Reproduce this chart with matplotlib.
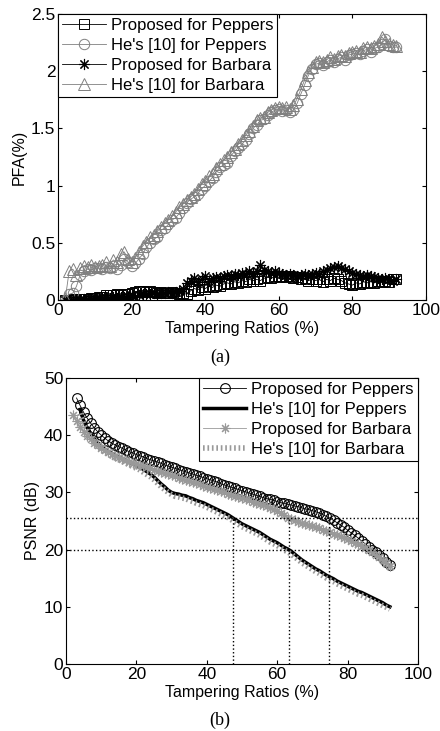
import matplotlib
matplotlib.use('Agg')
import matplotlib.pyplot as plt

plt.rcParams['font.family'] = ['Liberation Sans', 'DejaVu Sans']
plt.rcParams['font.size'] = 11.5

# ---------------- (a) PFA ----------------
ratio_a = list(range(2, 93))

pfa_prop_peppers = [
    0.00, 0.00, 0.01, 0.00, 0.01, 0.01, 0.01, 0.02, 0.02, 0.03,
    0.03, 0.04, 0.04, 0.04, 0.05, 0.04, 0.05, 0.05, 0.06, 0.07,
    0.08, 0.08, 0.07, 0.08, 0.07, 0.06, 0.07, 0.06, 0.06, 0.07,
    0.06, 0.05, 0.06, 0.05, 0.08, 0.10, 0.09, 0.11, 0.10, 0.12,
    0.11, 0.13, 0.12, 0.14, 0.15, 0.14, 0.16, 0.15, 0.17, 0.16,
    0.18, 0.17, 0.18, 0.17, 0.19, 0.20, 0.19, 0.21, 0.20, 0.21,
    0.20, 0.21, 0.19, 0.20, 0.18, 0.19, 0.17, 0.18, 0.17, 0.18,
    0.16, 0.18, 0.17, 0.19, 0.18, 0.17, 0.15, 0.14, 0.13, 0.15,
    0.14, 0.16, 0.15, 0.16, 0.15, 0.17, 0.16, 0.17, 0.16, 0.18, 0.18]

pfa_he_peppers = [
    0.00, 0.05, 0.06, 0.12, 0.22, 0.25, 0.27, 0.26, 0.28, 0.28,
    0.27, 0.29, 0.28, 0.30, 0.27, 0.31, 0.36, 0.33, 0.30, 0.32,
    0.36, 0.40, 0.46, 0.50, 0.53, 0.55, 0.61, 0.63, 0.66, 0.70,
    0.72, 0.76, 0.80, 0.85, 0.88, 0.90, 0.93, 0.97, 1.00, 1.04,
    1.07, 1.12, 1.16, 1.18, 1.20, 1.26, 1.30, 1.33, 1.36, 1.40,
    1.45, 1.50, 1.53, 1.57, 1.58, 1.62, 1.64, 1.66, 1.67, 1.65,
    1.66, 1.64, 1.66, 1.72, 1.80, 1.88, 1.96, 2.02, 2.06, 2.07,
    2.05, 2.08, 2.10, 2.08, 2.11, 2.12, 2.10, 2.14, 2.15, 2.16,
    2.15, 2.18, 2.19, 2.17, 2.20, 2.21, 2.24, 2.28, 2.22, 2.21, 2.21]

pfa_prop_barbara = [
    0.00, 0.00, 0.00, 0.01, 0.00, 0.01, 0.01, 0.01, 0.01, 0.02,
    0.02, 0.02, 0.02, 0.03, 0.02, 0.03, 0.03, 0.03, 0.04, 0.03,
    0.04, 0.05, 0.05, 0.05, 0.06, 0.05, 0.06, 0.06, 0.07, 0.06,
    0.07, 0.08, 0.10, 0.15, 0.17, 0.19, 0.16, 0.18, 0.21, 0.17,
    0.19, 0.20, 0.19, 0.21, 0.22, 0.21, 0.23, 0.22, 0.24, 0.23,
    0.25, 0.24, 0.25, 0.31, 0.26, 0.25, 0.24, 0.25, 0.24, 0.23,
    0.22, 0.23, 0.22, 0.21, 0.22, 0.23, 0.22, 0.23, 0.24, 0.23,
    0.25, 0.26, 0.28, 0.29, 0.30, 0.28, 0.27, 0.25, 0.24, 0.23,
    0.22, 0.21, 0.22, 0.21, 0.20, 0.19, 0.18, 0.19, 0.18, 0.17, 0.18]

pfa_he_barbara = [
    0.02, 0.25, 0.27, 0.22, 0.28, 0.30, 0.29, 0.31, 0.29, 0.30,
    0.31, 0.33, 0.30, 0.35, 0.33, 0.40, 0.42, 0.36, 0.33, 0.37,
    0.42, 0.47, 0.51, 0.55, 0.57, 0.60, 0.64, 0.67, 0.70, 0.73,
    0.77, 0.81, 0.84, 0.87, 0.90, 0.93, 0.97, 1.01, 1.04, 1.08,
    1.10, 1.15, 1.19, 1.22, 1.25, 1.29, 1.32, 1.36, 1.40, 1.44,
    1.48, 1.52, 1.57, 1.59, 1.60, 1.64, 1.66, 1.68, 1.69, 1.68,
    1.69, 1.67, 1.70, 1.76, 1.84, 1.92, 1.99, 2.04, 2.08, 2.09,
    2.08, 2.10, 2.12, 2.11, 2.13, 2.14, 2.13, 2.16, 2.17, 2.18,
    2.17, 2.20, 2.21, 2.20, 2.22, 2.24, 2.30, 2.26, 2.24, 2.23, 2.22]

# ---------------- (b) PSNR ----------------
ratio_prop_peppers = list(range(3, 93))
psnr_prop_peppers = [
    46.5, 45.2, 44.0, 43.0, 42.1, 41.3, 40.6, 40.0, 39.5, 39.0,
    38.6, 38.3, 38.0, 37.7, 37.4, 37.1, 36.9, 36.6, 36.4, 36.2,
    35.9, 35.7, 35.5, 35.3, 35.1, 34.8, 34.6, 34.4, 34.2, 34.0,
    33.8, 33.6, 33.4, 33.2, 33.0, 32.8, 32.6, 32.4, 32.2, 32.0,
    31.8, 31.5, 31.3, 31.1, 30.9, 30.7, 30.5, 30.3, 30.1, 29.9,
    29.7, 29.5, 29.3, 29.1, 28.9, 28.8, 28.6, 28.4, 28.2, 28.1,
    27.9, 27.8, 27.6, 27.5, 27.3, 27.1, 27.0, 26.8, 26.6, 26.4,
    26.1, 25.8, 25.5, 25.1, 24.7, 24.3, 23.9, 23.4, 22.9, 22.5,
    22.0, 21.5, 21.0, 20.5, 20.0, 19.5, 19.0, 18.5, 17.9, 17.3]

ratio_he = list(range(4, 93))
psnr_he_peppers = [
    44.5, 42.6, 41.3, 40.3, 39.4, 38.7, 38.1, 37.6, 37.2, 36.8,
    36.5, 36.2, 35.9, 35.6, 35.3, 35.0, 34.7, 34.4, 34.0, 33.6,
    33.2, 32.7, 32.1, 31.5, 31.0, 30.4, 30.0, 29.8, 29.7, 29.5,
    29.4, 29.1, 28.9, 28.6, 28.4, 28.2, 27.9, 27.6, 27.3, 27.0,
    26.7, 26.4, 26.1, 25.7, 25.3, 24.9, 24.5, 24.2, 23.9, 23.6,
    23.3, 23.0, 22.6, 22.2, 21.8, 21.5, 21.2, 20.8, 20.4, 20.1,
    19.7, 19.2, 18.7, 18.2, 17.8, 17.4, 17.0, 16.6, 16.3, 15.9,
    15.5, 15.2, 14.9, 14.5, 14.2, 13.9, 13.6, 13.3, 13.0, 12.7,
    12.5, 12.2, 11.9, 11.6, 11.3, 11.0, 10.7, 10.3, 10.0]

ratio_prop_barbara = list(range(2, 93))
psnr_prop_barbara = [
    43.5, 42.4, 41.4, 40.6, 39.9, 39.3, 38.7, 38.2, 37.8, 37.4,
    37.0, 36.7, 36.4, 36.1, 35.9, 35.6, 35.4, 35.2, 35.0, 34.8,
    34.6, 34.4, 34.2, 34.0, 33.8, 33.6, 33.4, 33.2, 33.0, 32.8,
    32.6, 32.4, 32.2, 32.0, 31.8, 31.6, 31.4, 31.2, 31.0, 30.8,
    30.6, 30.4, 30.2, 30.0, 29.8, 29.6, 29.4, 29.2, 29.0, 28.8,
    28.6, 28.4, 28.2, 28.0, 27.8, 27.6, 27.3, 27.1, 26.8, 26.4,
    26.0, 25.6, 25.3, 25.1, 24.9, 24.7, 24.5, 24.3, 24.2, 24.0,
    23.7, 23.5, 23.2, 23.0, 22.8, 22.5, 22.3, 22.0, 21.8, 21.5,
    21.2, 20.9, 20.6, 20.3, 19.9, 19.5, 19.1, 18.7, 18.2, 17.7, 17.2]

psnr_he_barbara = [
    43.8, 42.0, 40.8, 39.8, 38.9, 38.2, 37.6, 37.1, 36.7, 36.3,
    36.0, 35.7, 35.4, 35.1, 34.8, 34.5, 34.2, 33.9, 33.5, 33.1,
    32.7, 32.2, 31.6, 31.0, 30.5, 30.0, 29.6, 29.3, 29.2, 29.0,
    28.9, 28.6, 28.4, 28.1, 27.9, 27.7, 27.4, 27.1, 26.8, 26.5,
    26.2, 25.9, 25.6, 25.2, 24.8, 24.4, 24.0, 23.7, 23.4, 23.1,
    22.8, 22.5, 22.1, 21.7, 21.3, 21.0, 20.7, 20.3, 19.9, 19.6,
    19.2, 18.7, 18.2, 17.7, 17.3, 16.9, 16.5, 16.1, 15.8, 15.4,
    15.0, 14.7, 14.4, 14.0, 13.7, 13.4, 13.1, 12.8, 12.5, 12.2,
    12.0, 11.7, 11.4, 11.1, 10.8, 10.5, 10.2, 9.9, 9.6]

guide_psnr = [25.5, 20]
guide_ratio = [47.5, 63.3, 74.7]

fig = plt.figure(figsize=(4.4, 7.31), dpi=100)

gray = '#808080'
light = '#999999'
asterisk = (8, 2, 0)

# (a)
ax1 = fig.add_axes([0.132, 0.5896, 0.836, 0.3913])
ax1.plot(ratio_a, pfa_prop_peppers, '-s', color='k', lw=0.6, ms=7, mfc='none', mew=0.7,
         label='Proposed for Peppers')
ax1.plot(ratio_a, pfa_he_peppers, '-o', color=gray, lw=0.6, ms=7.5, mfc='none', mew=0.7,
         label="He's [10] for Peppers")
ax1.plot(ratio_a, pfa_prop_barbara, '-', marker=asterisk, color='k', lw=0.6, ms=8, mew=0.8,
         label='Proposed for Barbara')
ax1.plot(ratio_a, pfa_he_barbara, '-^', color=gray, lw=0.6, ms=8, mfc='none', mew=0.7,
         label="He's [10] for Barbara")
ax1.set_xlim(0, 100)
ax1.set_ylim(0, 2.5)
ax1.set_xticks([0, 20, 40, 60, 80, 100])
ax1.set_yticks([0, 0.5, 1, 1.5, 2, 2.5])
ax1.set_yticklabels(['0', '0.5', '1', '1.5', '2', '2.5'])
ax1.set_xlabel('Tampering Ratios (%)', labelpad=2)
ax1.set_ylabel('PFA(%)', labelpad=3)
leg1 = ax1.legend(loc='upper left', borderaxespad=0, fancybox=False, framealpha=1,
                  edgecolor='k', handlelength=2.6, handletextpad=0.3, labelspacing=0.3,
                  borderpad=0.25, fontsize=12)
leg1.get_frame().set_linewidth(0.8)

# (b)
ax2 = fig.add_axes([0.150, 0.0917, 0.80, 0.3912])
ax2.plot(ratio_prop_peppers, psnr_prop_peppers, '-o', color='k', lw=0.6, ms=7,
         mfc='none', mew=0.8, label='Proposed for Peppers')
ax2.plot(ratio_he, psnr_he_peppers, '-', color='k', lw=2.5, label="He's [10] for Peppers")
ax2.plot(ratio_prop_barbara, psnr_prop_barbara, '-', marker=asterisk, color=light, lw=0.6,
         ms=7, mew=0.8, label='Proposed for Barbara')
ax2.plot(ratio_he, psnr_he_barbara, color=light, lw=4, dashes=(0.3, 0.5),
         dash_capstyle='butt', label="He's [10] for Barbara")
for v in guide_psnr:
    ax2.axhline(v, color='k', ls=':', lw=1)
for r in guide_ratio:
    ax2.plot([r, r], [0, guide_psnr[0]], color='k', ls=':', lw=1)
ax2.set_xlim(0, 100)
ax2.set_ylim(0, 50)
ax2.set_xticks([0, 20, 40, 60, 80, 100])
ax2.set_yticks([0, 10, 20, 30, 40, 50])
ax2.set_xlabel('Tampering Ratios (%)', labelpad=2)
ax2.set_ylabel('PSNR (dB)', labelpad=3)
leg2 = ax2.legend(loc='upper right', borderaxespad=0, fancybox=False, framealpha=1,
                  edgecolor='k', handlelength=2.6, handletextpad=0.3, labelspacing=0.3,
                  borderpad=0.25, fontsize=12)
leg2.get_frame().set_linewidth(0.8)

for ax in (ax1, ax2):
    ax.tick_params(direction='in', top=True, right=True, length=3, width=0.8,
                   labelsize=12.5, pad=2)
    for s in ax.spines.values():
        s.set_linewidth(0.8)

fig.text(0.5, 1 - 357 / 731, '(a)', ha='center', va='center', fontsize=13,
         family='Liberation Serif')
fig.text(0.5, 1 - 720 / 731, '(b)', ha='center', va='center', fontsize=13,
         family='Liberation Serif')

fig.savefig('out.png', dpi=100)
